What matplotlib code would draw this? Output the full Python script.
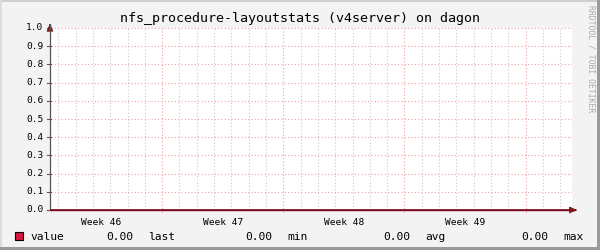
import matplotlib
matplotlib.use("Agg")
import matplotlib.pyplot as plt
from matplotlib.patches import Rectangle

# ---- data ----
title = "nfs_procedure-layoutstats (v4server) on dagon"
# days since graph start (x axis spans ~30.1 days)
days = [0, 1, 2, 3, 4, 5, 6, 7, 8, 9, 10, 11, 12, 13, 14, 15, 16, 17, 18, 19,
        20, 21, 22, 23, 24, 25, 26, 27, 28, 29, 30, 30.1]
values = [0.0, 0.0, 0.0, 0.0, 0.0, 0.0, 0.0, 0.0, 0.0, 0.0, 0.0, 0.0, 0.0, 0.0,
          0.0, 0.0, 0.0, 0.0, 0.0, 0.0, 0.0, 0.0, 0.0, 0.0, 0.0, 0.0, 0.0, 0.0,
          0.0, 0.0, 0.0, 0.0]
week_labels = ["Week 46", "Week 47", "Week 48", "Week 49"]
week_starts = [6.42, 13.42, 20.42, 27.42]      # week boundaries (major grid)
week_centers = [2.92, 9.92, 16.92, 23.92]      # label positions
y_ticks = [0.0, 0.1, 0.2, 0.3, 0.4, 0.5, 0.6, 0.7, 0.8, 0.9, 1.0]
y_tick_labels = ["0.0", "0.1", "0.2", "0.3", "0.4", "0.5", "0.6", "0.7", "0.8", "0.9", "1.0"]
legend_name = "value"
legend_stats = [("0.00", "last"), ("0.00", "min"), ("0.00", "avg"), ("0.00", "max")]

XMAX = 30.1
W, H = 600, 250
MONO = "DejaVu Sans Mono"

fig = plt.figure(figsize=(6, 2.5), dpi=100)
fig.patch.set_facecolor("#f3f3f3")

# frame shading
fig.add_artist(Rectangle((0, 1 - 2 / H), 1, 2 / H, transform=fig.transFigure, color="#cfcfcf", lw=0))
fig.add_artist(Rectangle((0, 0), 2 / W, 1, transform=fig.transFigure, color="#dcdcdc", lw=0))
fig.add_artist(Rectangle((0, 0), 1, 3 / H, transform=fig.transFigure, color="#9a9a9a", lw=0))
fig.add_artist(Rectangle((1 - 3 / W, 0), 3 / W, 1, transform=fig.transFigure, color="#9a9a9a", lw=0))

x0, x1 = 51, 572
y_bot, y_top = 210, 28
ax = fig.add_axes([x0 / W, (H - y_bot) / H, (x1 - x0) / W, (y_bot - y_top) / H])
ax.set_facecolor("white")
ax.set_xlim(0, XMAX)
ax.set_ylim(0, 1.0)
for s in ax.spines.values():
    s.set_visible(False)
ax.set_xticks([])
ax.set_yticks([])

# minor vertical grid (daily)
d = week_starts[0] - 6
minor_days = []
while d < XMAX:
    minor_days.append(d)
    d += 1
for md in minor_days:
    if any(abs(md - w) < 1e-6 for w in week_starts):
        continue
    if md <= 0.05:
        continue
    ax.axvline(md, color="#c8c8c8", lw=0.8, ls=(0, (1, 2)), zorder=1)

# major vertical grid
for w in week_starts:
    ax.plot([w, w], [-0.012, 1.0], color="#f4a0a0", lw=0.8, ls=(0, (1, 2)), zorder=2, clip_on=False)

# horizontal grid
for yv in y_ticks[1:]:
    ax.axhline(yv, color="#f4a0a0", lw=0.8, ls=(0, (1, 2)), zorder=2)

# y tick labels and ticks
for yv, lab in zip(y_ticks, y_tick_labels):
    ax.text(-0.45, yv, lab, ha="right", va="center", fontsize=6.8,
            family=MONO, color="#000000", clip_on=False)
    ax.plot([-0.22, 0], [yv, yv], color="#555555", lw=0.8, clip_on=False)

# x labels
for c, lab in zip(week_centers, week_labels):
    ax.text(c, -0.045, lab, ha="center", va="top", fontsize=6.8, family=MONO, clip_on=False)

# data line
ax.plot(days, values, color="#7a0a1e", lw=1.2, zorder=5, clip_on=False)

# axes lines
ax.plot([-0.06, -0.06], [0, 1.02], color="#555555", lw=0.9, clip_on=False, zorder=4)
ax.plot([0, XMAX + 0.2], [0, 0], color="#7a0a1e", lw=1.0, clip_on=False, zorder=4)
# arrows
ax.annotate("", xy=(XMAX + 0.3, 0), xytext=(XMAX + 0.0, 0),
            arrowprops=dict(arrowstyle="-|>,head_length=0.45,head_width=0.2", color="#8b1a1a", lw=0.8),
            annotation_clip=False)
ax.annotate("", xy=(-0.06, 1.04), xytext=(-0.06, 1.0),
            arrowprops=dict(arrowstyle="-|>,head_length=0.45,head_width=0.2", color="#8b1a1a", lw=0.8),
            annotation_clip=False)

# title
fig.text(300 / W, 1 - 18.5 / H, title, ha="center", va="center", fontsize=9.6, family=MONO)

# watermark
fig.text(591 / W, 1 - 5 / H, "RRDTOOL / TOBI OETIKER", rotation=270, ha="center", va="top",
         fontsize=5.8, family=MONO, color="#aaaaaa")

# legend
fig.add_artist(Rectangle((15 / W, 1 - 240 / H), 8 / W, 8 / H, transform=fig.transFigure,
                         facecolor="#dc143c", edgecolor="black", lw=0.8))
ly = 1 - 236.5 / H
fig.text(30 / W, ly, legend_name, ha="left", va="center", fontsize=8.1, family=MONO)
num_right = [133, 272, 410, 548]
lab_left = [148, 287, 425, 563]
for (num, lab), nr, ll in zip(legend_stats, num_right, lab_left):
    fig.text(nr / W, ly, num, ha="right", va="center", fontsize=8.1, family=MONO)
    fig.text(ll / W, ly, lab, ha="left", va="center", fontsize=8.1, family=MONO)

fig.savefig("out.png", dpi=100, facecolor=fig.get_facecolor())
